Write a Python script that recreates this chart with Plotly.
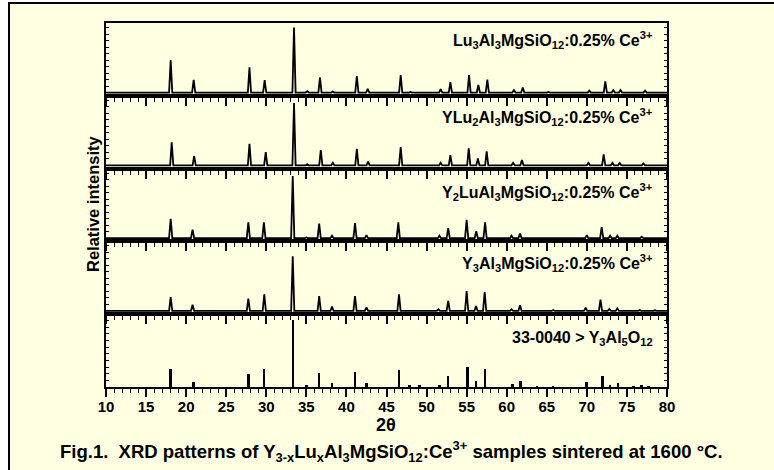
import plotly.graph_objects as go
from plotly.subplots import make_subplots

# ---------------- data ----------------
# Lu3Al3MgSiO12:0.25% Ce3+
lu3_pos = [18.07, 20.94, 27.9, 29.8, 33.46, 35.1, 36.7, 38.3, 41.3, 42.65, 46.77, 48.0,
           51.76, 52.97, 55.3, 56.46, 57.58, 60.9, 62.0, 65.2, 66.2, 69.3, 70.3, 72.3,
           73.3, 74.2, 77.26]
lu3_int = [50, 19.4, 38.8, 19, 100, 2, 23.5, 1.5, 25.5, 5.7, 27, 1,
           5.2, 16, 27, 11.8, 20, 3.8, 7.6, 1, 1, 1, 3, 17,
           3.8, 3.8, 3]

# YLu2Al3MgSiO12:0.25% Ce3+
ylu2_pos = [18.2, 21.0, 27.9, 29.93, 33.46, 35.1, 36.8, 38.3, 41.3, 42.7, 46.77, 51.76,
            52.97, 55.26, 56.4, 57.5, 60.8, 61.9, 65.2, 70.2, 72.1, 73.2, 74.1, 77.05]
ylu2_int = [35.6, 14.2, 33.2, 20.3, 95.9, 1.5, 23.4, 4.1, 25.5, 5.7, 28, 4,
            15.7, 26, 10.7, 21.4, 3.8, 8.1, 1, 3.8, 16.8, 3.8, 3.5, 3]

# Y2LuAl3MgSiO12:0.25% Ce3+
y2lu_pos = [18.07, 20.8, 27.76, 29.7, 33.3, 35.0, 36.6, 38.2, 41.07, 42.5, 46.47, 51.6,
            52.7, 55.0, 56.2, 57.3, 60.6, 61.66, 70.0, 71.85, 72.9, 73.8, 76.85]
y2lu_int = [29.8, 13, 24.2, 24.2, 95.6, 1, 22.2, 3.8, 23.2, 4.6, 24.2, 3.8,
            15.3, 28.3, 10.7, 24.2, 3.8, 6.9, 4.6, 16.8, 3.8, 3.8, 2.3]

# Y3Al3MgSiO12:0.25% Ce3+
y3_pos = [18.07, 20.8, 27.76, 29.75, 33.3, 36.6, 38.2, 41.07, 42.5, 46.56, 51.47, 52.7,
          55.0, 56.17, 57.25, 60.6, 61.66, 65.8, 69.85, 71.7, 72.8, 73.8, 76.6, 78.5]
y3_int = [21.4, 9.6, 18.8, 25.4, 84, 23, 6.6, 23, 5.5, 25.4, 2.6, 15.3,
          30.6, 7.6, 29, 2.5, 8.6, 1.5, 5, 17.3, 3, 4, 1.5, 1]

# Reference card 33-0040 (Y3Al5O12)
ref_pos = [18.07, 20.9, 27.8, 29.7, 33.3, 35.0, 36.6, 38.2, 41.1, 42.5, 46.55, 47.85,
           49.1, 51.6, 52.7, 55.1, 56.2, 57.3, 60.7, 61.7, 63.8, 65.8, 69.97, 71.97,
           72.9, 73.9, 75.8, 76.8, 77.7]
ref_int = [27, 7, 19.5, 27, 100, 1.5, 20, 6, 22.5, 5, 25, 1.5,
           1.5, 2.5, 16.5, 30, 8.5, 27, 3.5, 9, 1, 1, 6.5, 16.5,
           3, 5, 1, 1.5, 1]

labels = [
    "Lu<sub>3</sub>Al<sub>3</sub>MgSiO<sub>12</sub>:0.25% Ce<sup>3+</sup>",
    "YLu<sub>2</sub>Al<sub>3</sub>MgSiO<sub>12</sub>:0.25% Ce<sup>3+</sup>",
    "Y<sub>2</sub>LuAl<sub>3</sub>MgSiO<sub>12</sub>:0.25% Ce<sup>3+</sup>",
    "Y<sub>3</sub>Al<sub>3</sub>MgSiO<sub>12</sub>:0.25% Ce<sup>3+</sup>",
    "33-0040 &gt; Y<sub>3</sub>Al<sub>5</sub>O<sub>12</sub>",
]
x_ticks = [10, 15, 20, 25, 30, 35, 40, 45, 50, 55, 60, 65, 70, 75, 80]

# ---------------- figure ----------------
W, H = 774, 470
L, R, T, B = 106, 107, 23, 83
PW, PH = W - L - R, H - T - B
FONT = "Liberation Sans, Arial, sans-serif"
BG = "#FFFFE2"


def px_x(px):
    return (px - L) / PW


def px_y(py):
    return 1 - (py - T) / PH


def profile(pos, inten, hw=0.2):
    xs, ys = [10.0], [0.0]
    for p, h in sorted(zip(pos, inten)):
        xs += [p - hw, p, p + hw]
        ys += [0.0, h, 0.0]
    xs.append(80.0)
    ys.append(0.0)
    return xs, ys


fig = make_subplots(rows=5, cols=1, shared_xaxes=True, vertical_spacing=0)

samples = [(lu3_pos, lu3_int), (ylu2_pos, ylu2_int), (y2lu_pos, y2lu_int), (y3_pos, y3_int)]
for i, (p, v) in enumerate(samples):
    xs, ys = profile(p, v)
    fig.add_trace(go.Scatter(x=xs, y=ys, mode="lines", line=dict(color="black", width=1.8),
                             showlegend=False, hoverinfo="skip"), row=i + 1, col=1)

fig.add_trace(go.Bar(x=ref_pos, y=ref_int, width=0.3, marker=dict(color="black", line=dict(width=0)),
                     showlegend=False, hoverinfo="skip"), row=5, col=1)

for r in range(1, 6):
    fig.update_xaxes(range=[10, 80], showline=True, linewidth=2, linecolor="black", mirror=True,
                     ticks="outside", tickvals=x_ticks, ticklen=8, tickwidth=1.5, tickcolor="black",
                     minor=dict(dtick=1, tick0=10, ticks="outside", ticklen=4, tickwidth=1.2, tickcolor="black"),
                     showgrid=False, zeroline=False, ticklabelstandoff=-3,
                     tickfont=dict(family=FONT, size=15, color="black", weight="bold"),
                     row=r, col=1)
    yr = [-5, 107] if r < 5 else [0, 109.3]
    fig.update_yaxes(range=yr, showline=True, linewidth=2, linecolor="black", mirror="ticks",
                     ticks="inside", dtick=10, tick0=0, ticklen=3, tickwidth=1, tickcolor="black",
                     showticklabels=False, showgrid=False, zeroline=False, row=r, col=1)

label_y = [40, 117, 192, 263, 338]
ann = []
for lab, py in zip(labels, label_y):
    ann.append(dict(x=px_x(655), y=px_y(py), xref="paper", yref="paper", text=lab, showarrow=False,
                    xanchor="right", yanchor="middle",
                    font=dict(family=FONT, size=16, color="black", weight="bold")))
ann.append(dict(x=px_x(93), y=px_y(204), xref="paper", yref="paper", text="Relative intensity",
                showarrow=False, textangle=-90, xanchor="center", yanchor="middle",
                font=dict(family=FONT, size=16.5, color="black", weight="bold")))
ann.append(dict(x=px_x(386), y=px_y(425), xref="paper", yref="paper", text="2θ",
                showarrow=False, xanchor="center", yanchor="middle",
                font=dict(family=FONT, size=18, color="black", weight="bold")))
ann.append(dict(x=px_x(391), y=px_y(451), xref="paper", yref="paper",
                text="Fig.1.\u00a0\u00a0XRD patterns of Y<sub>3-x</sub>Lu<sub>x</sub>Al<sub>3</sub>MgSiO<sub>12</sub>:Ce<sup>3+</sup> samples sintered at 1600 °C.",
                showarrow=False, xanchor="center", yanchor="middle",
                font=dict(family=FONT, size=18.5, color="black", weight="bold")))

fig.update_layout(
    width=W, height=H, margin=dict(l=L, r=R, t=T, b=B, pad=0),
    paper_bgcolor="white", plot_bgcolor="rgba(0,0,0,0)",
    bargap=0, annotations=ann,
    shapes=[dict(type="rect", xref="paper", yref="paper", layer="below",
                 x0=px_x(9), x1=px_x(800), y0=px_y(500), y1=px_y(3),
                 fillcolor=BG, line=dict(color="black", width=2))],
)

fig.write_html("out.html", config={"displayModeBar": False},
               post_script="document.body.style.margin='0px';")
